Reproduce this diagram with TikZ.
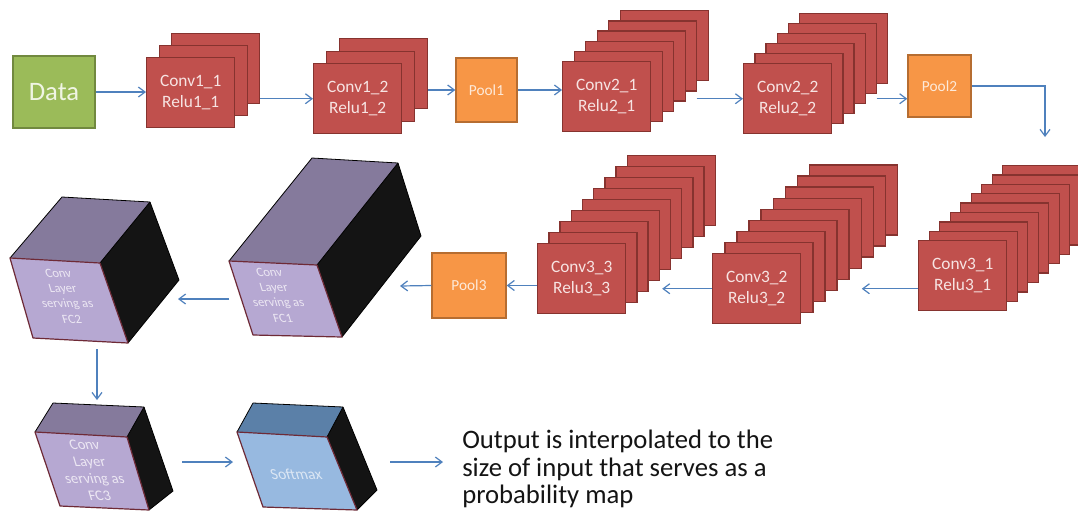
\documentclass[tikz,border=0pt]{standalone}
\usepackage{fontspec}
\setmainfont{Carlito}
\usetikzlibrary{arrows.meta,calc}
\definecolor{redfill}{HTML}{C0504D}
\definecolor{redline}{HTML}{86332F}
\definecolor{redtext}{HTML}{F7E4E3}
\definecolor{greenfill}{HTML}{9BBB59}
\definecolor{greenline}{HTML}{71893F}
\definecolor{greentext}{HTML}{F0F5E4}
\definecolor{orangefill}{HTML}{F79646}
\definecolor{orangeline}{HTML}{B66D31}
\definecolor{orangetext}{HTML}{FDEADA}
\definecolor{arrowblue}{HTML}{4F81BD}
\definecolor{cubetop}{HTML}{857A9C}
\definecolor{cubefront}{HTML}{B6A8D2}
\definecolor{cubeside}{HTML}{141414}
\definecolor{smtop}{HTML}{5B80A8}
\definecolor{smfront}{HTML}{97B9E0}
\definecolor{cubetext}{HTML}{ECE7F3}
\definecolor{smtext}{HTML}{DCE7F4}
\definecolor{frontline}{HTML}{6E2A36}
\tikzset{
  layer/.style={rectangle, draw=redline, fill=redfill, line width=1.1pt,
    minimum width=66pt, minimum height=52.5pt, inner sep=0pt, text=redtext,
    align=center, font=\fontsize{13}{15.75}\selectfont},
  databox/.style={rectangle, draw=greenline, fill=greenfill, line width=1.2pt,
    inner sep=0pt, text=greentext, font=\fontsize{20}{24}\selectfont},
  poolbox/.style={rectangle, draw=orangeline, fill=orangefill, line width=1.1pt,
    inner sep=0pt, text=orangetext, font=\fontsize{11.5}{13}\selectfont},
  arr/.style={draw=arrowblue, line width=0.9pt,
    -{Straight Barb[length=5pt,width=7.5pt,line width=0.9pt]}},
  cubeedge/.style={draw=black, line width=0.6pt, line join=round},
  frontedge/.style={draw=frontline, line width=0.9pt, line join=round},
  cubelabel/.style={align=center, inner sep=0pt, text=cubetext},
}
\newcommand{\convstack}[8]{%
  \foreach \i in {#4,...,2}{%
    \node[layer, anchor=north west] (#1-\i) at ({#2+(\i-1)*#5},{#3-(\i-1)*#6}) {};
  }
  \node[layer, anchor=north west] (#1) at (#2,#3) {#7\\#8};
}
\newcommand{\drawcube}[3]{%
  \fill[#2] (#1-a) -- (#1-e) -- (#1-f) -- (#1-b) -- cycle;
  \fill[cubeside] (#1-b) -- (#1-f) -- (#1-g) -- (#1-c) -- cycle;
  \draw[cubeedge] (#1-a) -- (#1-e) -- (#1-f) -- (#1-g) -- (#1-c);
  \draw[cubeedge] (#1-b) -- (#1-f);
  \fill[#3] (#1-a) -- (#1-b) -- (#1-c) -- (#1-d) -- cycle;
  \draw[frontedge] (#1-a) -- (#1-b) -- (#1-c) -- (#1-d) -- cycle;
}
\begin{document}
\begin{tikzpicture}[x=0.75pt,y=-0.75pt]
\useasboundingbox (0,0) rectangle (1078,515);
\clip (0,0) rectangle (1078,515);
\fill[white] (0,0) rectangle (1078,515);

% ---- row 1
\node[databox, minimum width=61.5pt, minimum height=54pt] (data) at (54,92) {Data};
\convstack{c11}{146}{57}{3}{12.5}{12}{Conv1\_1}{Relu1\_1}
\convstack{c12}{313}{63}{3}{13}{12.5}{Conv1\_2}{Relu1\_2}
\node[poolbox, minimum width=45.75pt, minimum height=48pt] (p1) at (486.5,90) {Pool1};
\convstack{c21}{562}{61}{6}{11.5}{10.2}{Conv2\_1}{Relu2\_1}
\convstack{c22}{743}{63}{6}{11.2}{10}{Conv2\_2}{Relu2\_2}
\node[poolbox, minimum width=47.25pt, minimum height=46.5pt] (p2) at (939.5,86) {Pool2};

% ---- row 2
\convstack{c31}{918}{240}{9}{10.5}{9.4}{Conv3\_1}{Relu3\_1}
\convstack{c32}{712}{253}{9}{12.1}{11.1}{Conv3\_2}{Relu3\_2}
\convstack{c33}{537}{243}{9}{11.2}{11}{Conv3\_3}{Relu3\_3}
\node[poolbox, minimum width=55.5pt, minimum height=48.75pt] (p3) at (469,285.5) {Pool3};

% ---- cubes
\coordinate (fc1-a) at (229,261); \coordinate (fc1-b) at (317,265);
\coordinate (fc1-c) at (342,337); \coordinate (fc1-d) at (253,335);
\coordinate (fc1-e) at (312,158); \coordinate (fc1-f) at (398,163);
\coordinate (fc1-g) at (421,236);
\drawcube{fc1}{cubetop}{cubefront}

\coordinate (fc2-a) at (10,258); \coordinate (fc2-b) at (100,263);
\coordinate (fc2-c) at (128,343); \coordinate (fc2-d) at (33,338);
\coordinate (fc2-e) at (62,197); \coordinate (fc2-f) at (150,202);
\coordinate (fc2-g) at (179,280);
\drawcube{fc2}{cubetop}{cubefront}

\coordinate (fc3-a) at (35,432); \coordinate (fc3-b) at (127,437);
\coordinate (fc3-c) at (149,510); \coordinate (fc3-d) at (60,506);
\coordinate (fc3-e) at (53,403); \coordinate (fc3-f) at (144,407);
\coordinate (fc3-g) at (173,491);
\drawcube{fc3}{cubetop}{cubefront}

\coordinate (sm-a) at (237,432); \coordinate (sm-b) at (327,437);
\coordinate (sm-c) at (357,510); \coordinate (sm-d) at (263,507);
\coordinate (sm-e) at (253,403); \coordinate (sm-f) at (343,407);
\coordinate (sm-g) at (377,490);
\drawcube{sm}{smtop}{smfront}

\begin{scope}[shift={(276,295)}, xslant=-0.3]
  \node[cubelabel, transform shape, font=\fontsize{9.5}{11.5}\selectfont] (fc1t) at (0,0) {Conv\\Layer\\serving as\\FC1};
\end{scope}
\begin{scope}[shift={(65,296)}, xslant=-0.3]
  \node[cubelabel, transform shape, font=\fontsize{9.5}{11.5}\selectfont] (fc2t) at (0,0) {Conv\\Layer\\serving as\\FC2};
\end{scope}
\begin{scope}[shift={(92,470)}, xslant=-0.3]
  \node[cubelabel, transform shape, font=\fontsize{11}{12.75}\selectfont] (fc3t) at (0,0) {Conv\\Layer\\serving as\\FC3};
\end{scope}
\begin{scope}[shift={(296,474)}, xslant=-0.3]
  \node[cubelabel, transform shape, text=smtext, font=\fontsize{11.5}{13}\selectfont] (smt) at (0,0) {Softmax};
\end{scope}

% ---- output text
\node[anchor=north west, align=left, inner sep=0pt, text=black!92,
      font=\fontsize{20}{20.5}\selectfont] (out) at (462,430)
  {Output is interpolated to the\\size of input that serves as a\\probability map};

% ---- connector end points
\coordinate (p2drop) at (1045,137);
\coordinate (fc1in) at (400,286);
\coordinate (fc1out) at (229,299);
\coordinate (fc2in) at (178,299);
\coordinate (fc2out) at (97,349);
\coordinate (fc3in) at (97,400);
\coordinate (fc3out) at (182,462);
\coordinate (smin) at (233,462);
\coordinate (smout) at (390,462);
\coordinate (outin) at (443,462);

% ---- connectors
\draw[arr] (data.east) -- (c11.west |- data.east);
\draw[arr] (c11-3.east |- c12.west) -- (c12.west);
\draw[arr] (c12-3.east |- p1.west) -- (p1.west);
\draw[arr] (p1.east) -- (c21.west |- p1.east);
\draw[arr] ([xshift=8pt]c21-4.east |- c22.west) -- (c22.west);
\draw[arr] ([xshift=8pt]c22-4.east |- c22.west) -- (p2.west |- c22.west);
\draw[arr] (p2.east) -| (p2drop);
\draw[arr] (c31.west |- c32.west) -- ([xshift=18pt]c32-4.east |- c32.west);
\draw[arr] (c32.west) -- ([xshift=10pt]c33-3.east |- c32.west);
\draw[arr] (c33.west |- p3.east) -- (p3.east);
\draw[arr] (p3.west) -- (fc1in);
\draw[arr] (fc1out) -- (fc2in);
\draw[arr] (fc2out) -- (fc3in);
\draw[arr] (fc3out) -- (smin);
\draw[arr] (smout) -- (outin);
\end{tikzpicture}
\end{document}
